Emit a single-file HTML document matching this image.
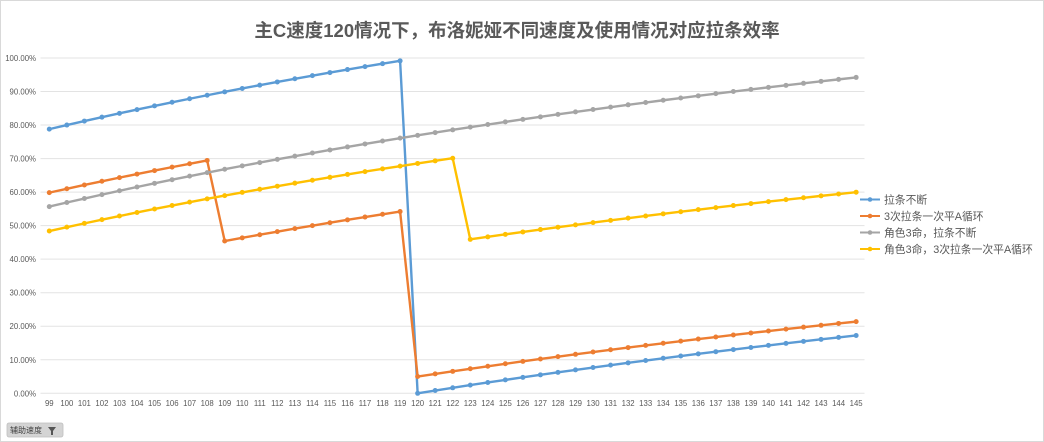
<!DOCTYPE html>
<html>
<head>
<meta charset="utf-8">
<style>
  html,body{margin:0;padding:0;background:#fff;}
  #wrap{position:relative;width:1044px;height:442px;overflow:hidden;background:#fff;}
  svg{position:absolute;left:0;top:0;}
  text{font-family:"Liberation Sans","Noto Sans CJK SC",sans-serif;}
</style>
</head>
<body>
<div id="wrap">
<svg id="chart" width="1044" height="442" viewBox="0 0 1044 442" xmlns="http://www.w3.org/2000/svg">
  <rect x="0.5" y="0.5" width="1043" height="441" fill="#fff" stroke="#d9d9d9" stroke-width="1"/>
  <text x="517" y="37" text-anchor="middle" font-size="18.5" font-weight="bold" fill="#595959" style='font-family:"Liberation Sans","Noto Sans CJK SC",sans-serif;'>主C速度120情况下，布洛妮娅不同速度及使用情况对应拉条效率</text>
  <g id="grid"></g>
  <g id="ylab"></g>
  <g id="xlab"></g>
  <g id="series"></g>
  <g id="legend" font-size="10.8" fill="#595959">
    <line x1="860" y1="199.5" x2="880" y2="199.5" stroke="#5b9bd5" stroke-width="2"/>
    <circle cx="870" cy="199.5" r="2.3" fill="#5b9bd5"/>
    <text x="884" y="203.5">拉条不断</text>
    <line x1="860" y1="216" x2="880" y2="216" stroke="#ed7d31" stroke-width="2"/>
    <circle cx="870" cy="216" r="2.3" fill="#ed7d31"/>
    <text x="884" y="220">3次拉条一次平A循环</text>
    <line x1="860" y1="232.5" x2="880" y2="232.5" stroke="#a5a5a5" stroke-width="2"/>
    <circle cx="870" cy="232.5" r="2.3" fill="#a5a5a5"/>
    <text x="884" y="236.5">角色3命，拉条不断</text>
    <line x1="860" y1="249" x2="880" y2="249" stroke="#ffc000" stroke-width="2"/>
    <circle cx="870" cy="249" r="2.3" fill="#ffc000"/>
    <text x="884" y="253">角色3命，3次拉条一次平A循环</text>
  </g>
  <rect x="7" y="423" width="56" height="14" rx="2" fill="#d4d4d4" stroke="#bfbfbf" stroke-width="0.8"/>
  <text x="10" y="433" font-size="8" fill="#404040">辅助速度</text>
  <path d="M48 427 L56 427 L53 431 L53 435 L51 435 L51 431 Z" fill="#555"/>
</svg>
</div>
<script>
(function(){
  var NS="http://www.w3.org/2000/svg";
  function el(tag, attrs, parent, txt){
    var e=document.createElementNS(NS,tag);
    for(var k in attrs) e.setAttribute(k, attrs[k]);
    if(txt!==undefined) e.textContent=txt;
    parent.appendChild(e); return e;
  }
  var X0=49.3, DX=17.54, Y0=393.3, YS=335.3;
  function xp(i){return X0+DX*i;}
  function yp(v){return Y0-YS*v;}
  var grid=document.getElementById('grid');
  var ylab=document.getElementById('ylab');
  for(var k=0;k<=10;k++){
    var y=yp(k/10);
    el('line',{x1:40.5,x2:864.5,y1:y,y2:y,stroke:'#e3e3e3','stroke-width':1},grid);
    el('text',{x:36,y:y+3,'text-anchor':'end','font-size':'7.8',fill:'#595959'},ylab,(k*10).toFixed(2)+'%');
  }
  var xlab=document.getElementById('xlab');
  for(var i=0;i<47;i++){
    el('text',{x:xp(i),y:406,'text-anchor':'middle','font-size':'7.8',fill:'#595959'},xlab,String(99+i));
  }
  function blue(s){return s<120?(2*s-120)/s:(s-120)/s;}
  function orange(s){ if(s<=108) return (1.75*s-114)/s; if(s<=119) return (1.5*s-114)/s; return (s-114)/s;}
  function gray(s){return 1.771-120.2/s;}
  function yellow(s){return s<=122?1.6355-114/s:1.386-114/s;}
  var series=[[blue,'#5b9bd5'],[orange,'#ed7d31'],[gray,'#a5a5a5'],[yellow,'#ffc000']];
  var sg=document.getElementById('series');
  series.forEach(function(sr){
    var pts=[];
    for(var i=0;i<47;i++){pts.push(xp(i).toFixed(2)+','+yp(sr[0](99+i)).toFixed(2));}
    el('polyline',{points:pts.join(' '),fill:'none',stroke:sr[1],'stroke-width':2.4,'stroke-linejoin':'round'},sg);
    for(var i=0;i<47;i++){
      el('circle',{cx:xp(i),cy:yp(sr[0](99+i)),r:2.5,fill:sr[1]},sg);
    }
  });
})();
</script>
</body>
</html>
